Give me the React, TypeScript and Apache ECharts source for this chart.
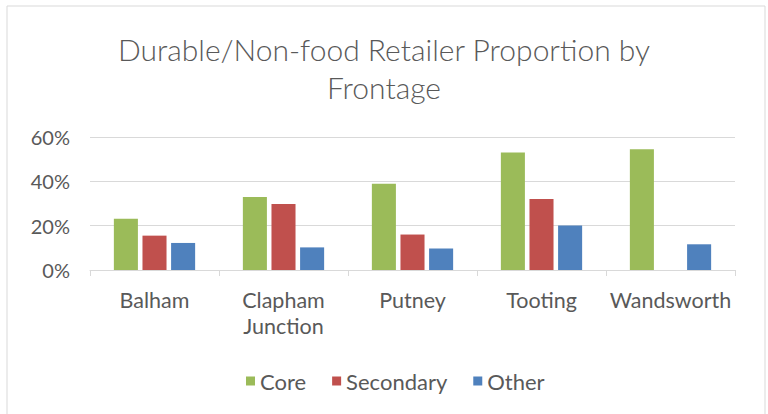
import React, { useEffect, useRef } from "react";
import * as echarts from "echarts";

const categories = ["Balham", "Clapham\nJunction", "Putney", "Tooting", "Wandsworth"];
const coreValues = [23.1, 32.9, 38.9, 53.0, 54.5];
const secondaryValues = [15.5, 29.8, 16.0, 32.0, 0];
const otherValues = [12.2, 10.2, 9.7, 20.1, 11.6];
const seriesNames = ["Core", "Secondary", "Other"];
const seriesColors = ["#9BBB59", "#C0504D", "#4F81BD"];
const yTicks = { min: 0, max: 60, interval: 20 };

const FONT = "Lato";
const TEXT = "#595959";

export default function App() {
  const ref = useRef<HTMLDivElement>(null);
  useEffect(() => {
    if (!ref.current) return;
    const chart = echarts.init(ref.current, undefined, { renderer: "svg" });
    const data = [coreValues, secondaryValues, otherValues];
    chart.setOption({
      animation: false,
      backgroundColor: "#ffffff",
      title: {
        text: "Durable/Non-food Retailer Proportion by\nFrontage",
        left: "center",
        top: 25,
        textStyle: { fontFamily: FONT, fontSize: 30, fontWeight: 300, color: TEXT, lineHeight: 38 },
      },
      legend: {
        bottom: 17,
        left: 241,
        itemWidth: 9,
        itemHeight: 9,
        itemGap: 26,
        icon: "rect",
        textStyle: { fontFamily: FONT, fontSize: 22, color: TEXT },
        data: seriesNames,
      },
      grid: { left: 90, right: 33, top: 137, bottom: 144, containLabel: false },
      xAxis: {
        type: "category",
        data: categories,
        axisLine: { lineStyle: { color: "#D9D9D9" } },
        axisTick: { show: true, length: 6, lineStyle: { color: "#D9D9D9" } },
        axisLabel: { interval: 0, fontFamily: FONT, fontSize: 21.5, color: TEXT, margin: 17, lineHeight: 26 },
      },
      yAxis: {
        type: "value",
        min: yTicks.min,
        max: yTicks.max,
        interval: yTicks.interval,
        axisLine: { show: false },
        axisTick: { show: false },
        splitLine: { lineStyle: { color: "#D9D9D9", width: 1 } },
        axisLabel: { formatter: "{value}%", fontFamily: FONT, fontSize: 20, color: TEXT, margin: 20 },
      },
      graphic: [
        {
          type: "rect",
          shape: { x: 7, y: 6, width: 758, height: 420 },
          style: { fill: "none", stroke: "#D9D9D9", lineWidth: 1 },
          silent: true,
        },
      ],
      series: seriesNames.map((name, i) => ({
        name,
        type: "bar",
        data: data[i],
        barGap: "19%",
        barCategoryGap: "37%",
        itemStyle: { color: seriesColors[i] },
      })),
    });
    return () => chart.dispose();
  }, []);
  return (
    <div
      ref={ref}
      style={{ position: "fixed", left: 0, top: 0, width: 768, height: 414 }}
    />
  );
}
